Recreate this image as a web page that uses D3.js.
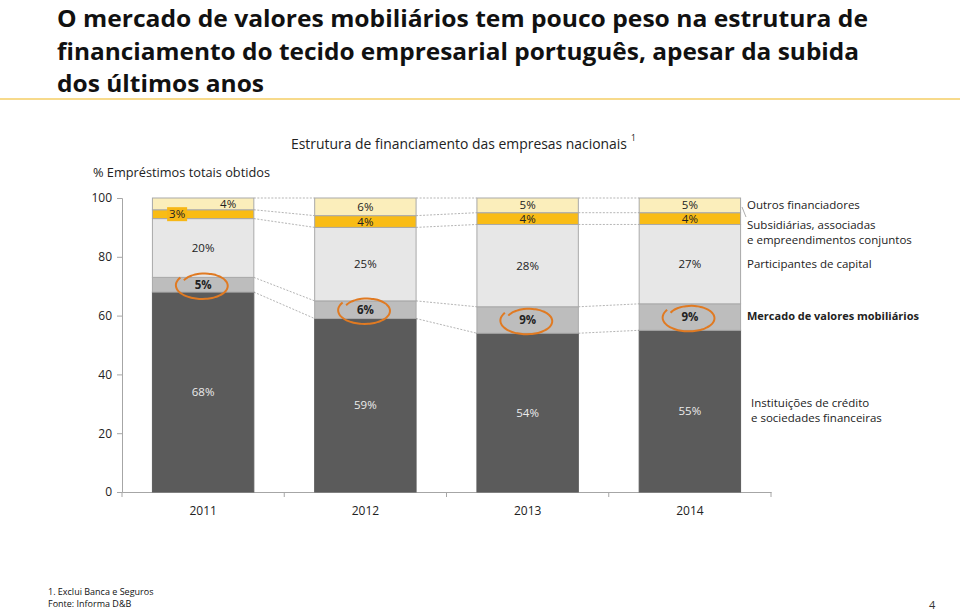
<!DOCTYPE html>
<html><head><meta charset="utf-8">
<script src="https://cdn.jsdelivr.net/npm/d3@7/dist/d3.min.js"></script>
<style>
body{margin:0;background:#fff;}
svg{display:block;font-family:"Open Sans",sans-serif;}
</style></head>
<body><svg id="c" width="960" height="613"></svg>
<script>
const years = ["2011","2012","2013","2014"];
const instituicoes = [68,59,54,55];
const mercado = [5,6,9,9];
const participantes = [20,25,28,27];
const subsidiarias = [3,4,4,4];
const outros = [4,6,5,5];
const yTicks = [0,20,40,60,80,100];
const titleLines = ["O mercado de valores mobiliários tem pouco peso na estrutura de",
  "financiamento do tecido empresarial português, apesar da subida",
  "dos últimos anos"];

const keys = ["inst","merc","part","subs","outr"];
const colors = {inst:"#5b5b5b",merc:"#bdbdbd",part:"#e7e7e7",subs:"#f9bc15",outr:"#fbeebb"};
const rows = years.map((y,i)=>({year:y,inst:instituicoes[i],merc:mercado[i],part:participantes[i],subs:subsidiarias[i],outr:outros[i]}));
const stacked = d3.stack().keys(keys)(rows);

const svg = d3.select("#c");
const x = d3.scaleBand().domain(years).range([122,771]).paddingInner(0.375).paddingOuter(0.1875);
const y = d3.scaleLinear().domain([0,100]).range([492,198]);

// title
const tl = [811,802,207];
titleLines.forEach((t,i)=>{
  svg.append("text").attr("x",57).attr("y",27+i*32.5).attr("font-size",23.5).attr("font-weight",700)
    .attr("fill","#111").attr("textLength",tl[i]).attr("lengthAdjust","spacingAndGlyphs").text(t);
});
svg.append("line").attr("x1",0).attr("x2",960).attr("y1",99).attr("y2",99).attr("stroke","#f0b619").attr("stroke-width",1.2);

svg.append("text").attr("x",291).attr("y",149).attr("font-size",14.5).attr("fill","#222")
  .attr("textLength",336).attr("lengthAdjust","spacingAndGlyphs").text("Estrutura de financiamento das empresas nacionais");
svg.append("text").attr("x",631).attr("y",141).attr("font-size",8.5).attr("fill","#222").text("1");

svg.append("text").attr("x",93).attr("y",177).attr("font-size",13.5).attr("fill","#222")
  .attr("textLength",177).attr("lengthAdjust","spacingAndGlyphs").text("% Empréstimos totais obtidos");

// axes
const yAxis = d3.axisLeft(y).tickValues(yTicks).tickSize(5).tickPadding(5);
const ga = svg.append("g").attr("transform","translate(122,0)").call(yAxis);
ga.select(".domain").attr("stroke","#a6a6a6");
ga.selectAll(".tick line").attr("stroke","#a6a6a6");
ga.selectAll(".tick text").attr("font-size",12).attr("fill","#222").attr("font-family","Open Sans");

const xAxis = d3.axisBottom(x).tickSize(0).tickPadding(14);
const gx = svg.append("g").attr("transform","translate(0,492)").call(xAxis);
gx.select(".domain").attr("stroke","#a6a6a6");
gx.selectAll(".tick text").attr("font-size",12).attr("fill","#222").attr("font-family","Open Sans");
const step = x.step();
d3.range(years.length+1).forEach(i=>{
  const xx = x.range()[0]+i*step;
  gx.append("line").attr("x1",xx).attr("x2",xx).attr("y1",0).attr("y2",5).attr("stroke","#a6a6a6");
});

// connectors
stacked.forEach(s=>{
  for(let i=0;i<years.length-1;i++){
    svg.append("line")
      .attr("x1",x(years[i])+x.bandwidth()).attr("y1",y(s[i][1]))
      .attr("x2",x(years[i+1])).attr("y2",y(s[i+1][1]))
      .attr("stroke","#b5b5b5").attr("stroke-width",1).attr("stroke-dasharray","2,1.5");
  }
});

// bars
stacked.forEach(s=>{
  svg.append("g").selectAll("rect").data(s).join("rect")
    .attr("x",d=>x(d.data.year)).attr("width",x.bandwidth())
    .attr("y",d=>y(d[1])).attr("height",d=>y(d[0])-y(d[1]))
    .attr("fill",colors[s.key]).attr("stroke",s.key==="inst"?"#5b5b5b":"#a9a9a9").attr("stroke-width",1);
});

// labels
const labOff = {"outr-0":[25,0],"subs-0":[-26,0]};
stacked.forEach(s=>{
  s.forEach((d,i)=>{
    const off = labOff[s.key+"-"+i]||[0,0];
    const cx = x(d.data.year)+x.bandwidth()/2+off[0];
    const cy = (y(d[0])+y(d[1]))/2+off[1];
    const txt = (d[1]-d[0])+"%";
    if(s.key==="subs" && i===0){
      svg.append("rect").attr("x",cx-10).attr("y",cy-7).attr("width",20).attr("height",14).attr("fill","#f7b715");
    }
    svg.append("text").attr("x",cx).attr("y",cy).attr("dy","0.36em").attr("text-anchor","middle")
      .attr("font-size",11.5).attr("font-weight",s.key==="merc"?700:400)
      .attr("fill",s.key==="inst"?"#ececec":"#222").text(txt);
  });
});

// orange hand-drawn circles around mercado labels
const ms = stacked.find(s=>s.key==="merc");
ms.forEach(d=>{
  const cx = x(d.data.year)+x.bandwidth()/2+1;
  const cy = (y(d[0])+y(d[1]))/2+1;
  const rx=24, ry=12.5;
  const pts = d3.range(0,1.02,0.02).map(t=>{
    const a = Math.PI*0.8 + t*Math.PI*2.05;
    const r = 1 + 0.12*(1-t) - 0.05*t;
    return [cx + rx*r*Math.cos(a) - 2*(1-t), cy - ry*r*Math.sin(a)];
  });
  svg.append("path").attr("d",d3.line().curve(d3.curveBasis)(pts))
    .attr("fill","none").attr("stroke","#e07a22").attr("stroke-width",2);
});

// legend labels
const lx = 747;
const leg = [
  ["Outros financiadores",209,400],
  ["Subsidiárias, associadas",229,400],
  ["e empreendimentos conjuntos",244,400],
  ["Participantes de capital",268,400],
  ["Mercado de valores mobiliários",320,700]
];
leg.forEach(l=>{
  svg.append("text").attr("x",lx).attr("y",l[1]).attr("font-size",l[2]===700?11:11.5).attr("font-weight",l[2]).attr("fill","#222").text(l[0]);
});
svg.append("line").attr("x1",742).attr("y1",207).attr("x2",746).attr("y2",217).attr("stroke","#999").attr("stroke-width",0.8);
svg.append("text").attr("x",751).attr("y",407).attr("font-size",11.5).attr("fill","#222").text("Instituições de crédito");
svg.append("text").attr("x",751).attr("y",422).attr("font-size",11.5).attr("fill","#222").text("e sociedades financeiras");

// footnotes
svg.append("text").attr("x",48).attr("y",595).attr("font-size",9).attr("fill","#111").text("1. Exclui Banca e Seguros");
svg.append("text").attr("x",48).attr("y",607).attr("font-size",9).attr("fill","#111").text("Fonte: Informa D&B");
svg.append("text").attr("x",929).attr("y",609).attr("font-size",11).attr("fill","#333").text("4");
</script></body></html>
